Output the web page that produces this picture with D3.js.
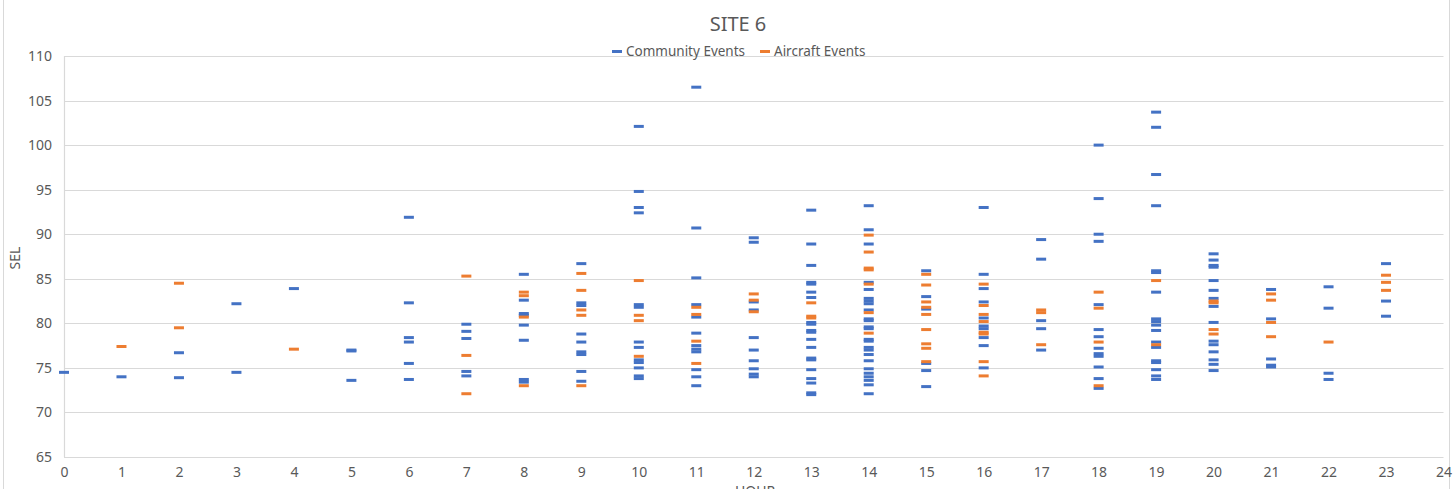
<!DOCTYPE html>
<html>
<head>
<meta charset="utf-8">
<script src="https://cdn.jsdelivr.net/npm/d3@7"></script>
<style>
  body { margin: 0; background: #fff; }
  text { font-family: "Noto Sans", "Open Sans", sans-serif; fill: #595959; }
</style>
</head>
<body>
<svg width="1453" height="489"></svg>
<script>
// SEL readings per hour (index = hour of day)
var hours = [0, 1, 2, 3, 4, 5, 6, 7, 8, 9, 10, 11, 12, 13, 14, 15, 16, 17, 18, 19, 20, 21, 22, 23];

var communitySEL = [
  [74.5],
  [74.0],
  [76.7, 73.9],
  [82.2, 74.5],
  [83.9],
  [77.0, 76.9, 73.6],
  [91.9, 82.3, 78.4, 77.9, 75.5, 73.7],
  [79.9, 79.1, 78.3, 74.6, 74.1],
  [85.5, 82.6, 81.1, 80.9, 79.8, 78.1, 73.7, 73.4],
  [86.7, 82.3, 82.0, 78.8, 77.9, 76.8, 76.5, 74.6, 73.5],
  [102.1, 94.8, 93.0, 92.4, 82.1, 81.8, 77.9, 77.3, 75.9, 75.6, 75.0, 74.1, 73.8],
  [106.5, 90.7, 85.1, 82.1, 80.7, 78.9, 77.5, 77.1, 76.8, 74.8, 74.0, 73.0],
  [89.6, 89.1, 82.4, 81.5, 78.4, 77.0, 75.8, 74.9, 74.3, 74.0],
  [92.7, 88.9, 86.5, 84.6, 84.4, 83.5, 82.9, 80.1, 79.9, 79.2, 79.0, 78.2, 77.3, 76.1, 75.9, 74.8, 73.8, 73.3, 72.2, 72.0],
  [93.2, 90.5, 88.9, 84.6, 83.8, 82.8, 82.5, 82.2, 81.5, 80.5, 80.3, 79.6, 79.4, 78.2, 78.0, 77.3, 77.0, 76.5, 75.8, 74.9, 74.4, 74.0, 73.6, 73.1, 72.1],
  [85.9, 83.0, 81.6, 75.5, 74.7, 72.9],
  [93.0, 85.5, 83.9, 82.4, 80.6, 79.7, 79.4, 78.4, 77.5, 75.0],
  [89.4, 87.2, 80.3, 79.4, 77.0],
  [100.0, 94.0, 90.0, 89.2, 82.1, 79.3, 78.5, 77.2, 76.6, 76.3, 75.1, 73.8, 72.7],
  [103.7, 102.0, 96.7, 93.2, 85.9, 85.7, 83.5, 80.5, 80.2, 79.8, 79.2, 77.9, 77.3, 75.8, 75.6, 74.8, 74.1, 73.7],
  [87.8, 87.1, 86.5, 86.3, 84.8, 83.7, 82.8, 81.9, 80.1, 78.0, 77.6, 76.8, 75.9, 75.4, 74.7],
  [83.8, 80.5, 76.0, 75.3, 75.1],
  [84.1, 81.7, 74.4, 73.7],
  [86.7, 82.5, 80.8]
];

var aircraftSEL = [
  [],
  [77.4],
  [84.5, 79.5],
  [],
  [77.1],
  [],
  [],
  [85.3, 76.4, 72.1],
  [83.5, 83.1, 80.7, 73.0],
  [85.6, 83.7, 81.5, 80.9, 73.0],
  [84.8, 80.9, 80.3, 76.3],
  [81.8, 81.0, 78.0, 75.5],
  [83.3, 82.6, 81.3],
  [82.3, 80.8, 80.6],
  [89.9, 88.0, 86.2, 86.0, 84.4, 81.2, 78.9],
  [85.5, 84.3, 82.4, 81.8, 81.0, 79.3, 77.7, 77.2, 75.7],
  [84.4, 82.0, 81.0, 80.2, 79.0, 78.8, 75.7, 74.1],
  [81.5, 81.2, 77.6],
  [83.5, 81.7, 77.9, 73.0],
  [84.8, 77.6],
  [82.5, 82.3, 79.3, 78.8],
  [83.3, 82.6, 80.1, 78.5],
  [77.9],
  [85.4, 84.6, 83.7]
];

var yTicks = [65, 70, 75, 80, 85, 90, 95, 100, 105, 110];
var xTicks = [0, 1, 2, 3, 4, 5, 6, 7, 8, 9, 10, 11, 12, 13, 14, 15, 16, 17, 18, 19, 20, 21, 22, 23, 24];

var svg = d3.select("svg"),
    width = +svg.attr("width"),
    height = +svg.attr("height");

var x = d3.scaleLinear().domain([0, 24]).range([64, 1443.5]);
var y = d3.scaleLinear().domain([65, 110]).range([457, 56]);

var blue = "#4472C4", orange = "#ED7D31", grid = "#d9d9d9";

// chart border
svg.append("line").attr("x1", 3.5).attr("x2", 3.5).attr("y1", 0).attr("y2", height)
    .attr("stroke", grid);
svg.append("line").attr("x1", 1449.5).attr("x2", 1449.5).attr("y1", 0).attr("y2", height)
    .attr("stroke", grid);

// gridlines
svg.append("g").selectAll("line")
    .data(yTicks)
  .enter().append("line")
    .attr("x1", x(0)).attr("x2", x(24))
    .attr("y1", function(d) { return Math.round(y(d)) + 0.5; })
    .attr("y2", function(d) { return Math.round(y(d)) + 0.5; })
    .attr("stroke", grid).attr("stroke-width", 1.2);

// y axis line
svg.append("line").attr("x1", x(0) + 0.5).attr("x2", x(0) + 0.5)
    .attr("y1", y(110)).attr("y2", y(65))
    .attr("stroke", grid).attr("stroke-width", 1.2);

// axes (labels only)
var yAxis = svg.append("g").attr("transform", "translate(" + (x(0) - 4) + ",0)")
    .call(d3.axisLeft(y).tickValues(yTicks).tickSize(0).tickPadding(8));
var xAxis = svg.append("g").attr("transform", "translate(0," + y(65) + ")")
    .call(d3.axisBottom(x).tickValues(xTicks).tickSize(0).tickPadding(10));
[yAxis, xAxis].forEach(function(a) {
  a.select(".domain").remove();
  a.selectAll("text").style("font-size", "14px").attr("fill", "#595959")
    .style("font-family", "\"Noto Sans\", sans-serif");
});

// points
function flatten(arr) {
  var out = [];
  arr.forEach(function(vals, i) {
    vals.forEach(function(v) { out.push({ hour: hours[i], sel: v }); });
  });
  return out;
}

function drawSeries(data, color) {
  svg.append("g").selectAll("rect")
      .data(flatten(data))
    .enter().append("rect")
      .attr("x", function(d) { return x(d.hour) - 5; })
      .attr("y", function(d) { return y(d.sel) - 1.5; })
      .attr("width", 10)
      .attr("height", 3)
      .attr("fill", color);
}

drawSeries(communitySEL, blue);
drawSeries(aircraftSEL, orange);

// title
svg.append("text").attr("x", 738).attr("y", 31)
    .attr("text-anchor", "middle").style("font-size", "20px").text("SITE 6");

// legend
var legend = [["Community Events", blue, 612], ["Aircraft Events", orange, 760]];
legend.forEach(function(l) {
  svg.append("rect").attr("x", l[2]).attr("y", 50).attr("width", 10).attr("height", 3).attr("fill", l[1]);
  svg.append("text").attr("x", l[2] + 14).attr("y", 56).style("font-size", "13.5px").text(l[0]);
});

// axis titles
svg.append("text").attr("transform", "translate(20,258) rotate(-90)")
    .attr("text-anchor", "middle").style("font-size", "14px").text("SEL");
svg.append("text").attr("x", 755).attr("y", 496)
    .attr("text-anchor", "middle").style("font-size", "14px").text("HOUR");
</script>
</body>
</html>
